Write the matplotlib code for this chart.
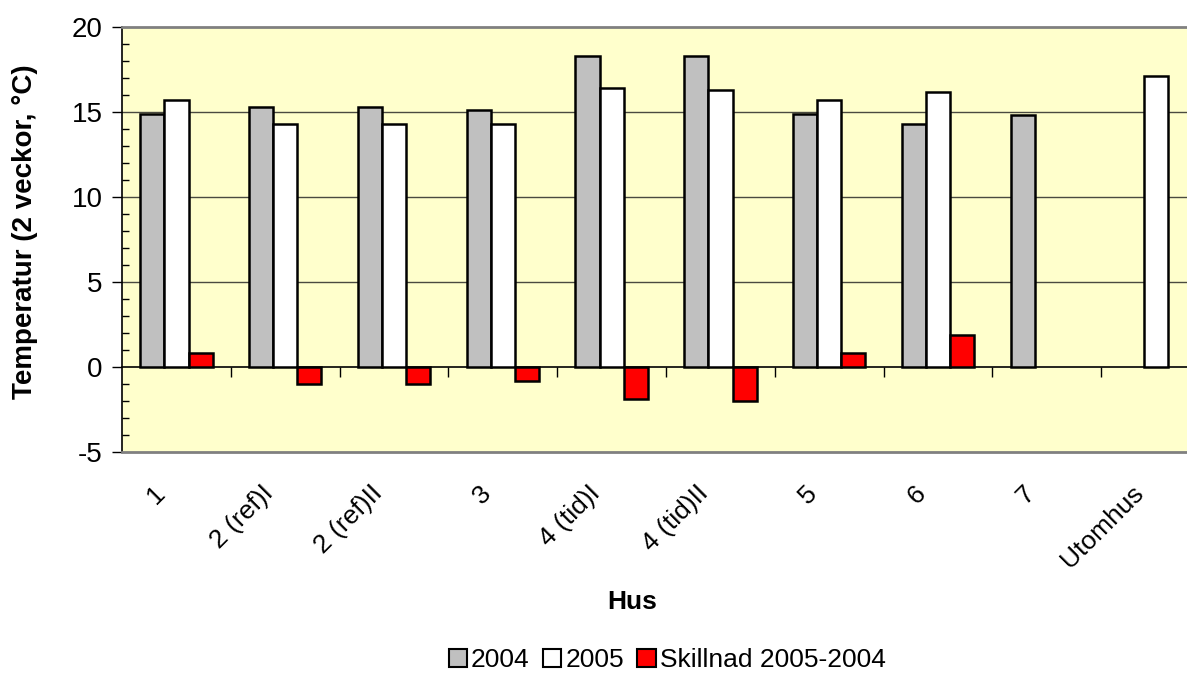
import numpy as np
import matplotlib
matplotlib.use("Agg")
import matplotlib.pyplot as plt
import matplotlib.transforms as mtransforms
from matplotlib.patches import Patch
from matplotlib.ticker import MultipleLocator

plt.rcParams['font.family'] = ['Liberation Sans', 'DejaVu Sans']
plt.rcParams['axes.unicode_minus'] = False

# Data
hus = ['1', '2 (ref)I', '2 (ref)II', '3', '4 (tid)I', '4 (tid)II', '5', '6', '7', 'Utomhus']
t2004 = [14.9, 15.3, 15.3, 15.1, 18.3, 18.3, 14.9, 14.3, 14.8, np.nan]
t2005 = [15.7, 14.3, 14.3, 14.3, 16.4, 16.3, 15.7, 16.2, np.nan, 17.1]
skillnad = [0.8, -1.0, -1.0, -0.8, -1.9, -2.0, 0.8, 1.9, np.nan, np.nan]

fig = plt.figure(figsize=(11.87, 6.78), dpi=100)
ax = fig.add_axes([0.1028, 0.3333, 0.9166, 0.6268])
ax.set_facecolor('#FFFFCC')

x = np.arange(len(hus))
w = 0.222
ax.bar(x - w, t2004, w, color='#C0C0C0', edgecolor='black', linewidth=1.8, zorder=3)
ax.bar(x, t2005, w, color='white', edgecolor='black', linewidth=1.8, zorder=3)
ax.bar(x + w, skillnad, w, color='#FF0000', edgecolor='black', linewidth=1.8, zorder=3)

ax.set_xlim(-0.5, len(hus) - 0.5)
ax.set_ylim(-5, 20)

# y axis
ax.yaxis.set_major_locator(MultipleLocator(5))
ax.yaxis.set_minor_locator(MultipleLocator(1))
ax.tick_params(axis='y', which='major', direction='out', length=7, width=1,
               labelsize=20, pad=7)
ax.tick_params(axis='y', which='minor', direction='in', length=5, width=1)
for yv in [5, 10, 15]:
    ax.axhline(yv, color='#4a4a40', linewidth=1, zorder=1)

# category labels at the bottom of the plot area
ax.set_xticks(x)
ax.set_xticklabels(hus, rotation=45, ha='right', va='top', rotation_mode='anchor')
ax.tick_params(axis='x', length=0, labelsize=19, pad=21)
off = mtransforms.ScaledTranslation(-24 / 100, 0, fig.dpi_scale_trans)
for lbl in ax.get_xticklabels():
    lbl.set_transform(lbl.get_transform() + off)

# category axis at y = 0
sec = ax.secondary_xaxis(5 / 25)
sec.set_xticks(x[:-1] + 0.5)
sec.set_xticklabels([])
sec.tick_params(direction='out', length=7, width=1)
sec.spines['bottom'].set_linewidth(1.2)
sec.spines['bottom'].set_zorder(4)

for s in ['top', 'bottom']:
    ax.spines[s].set_color('#808080')
    ax.spines[s].set_linewidth(2)
ax.spines['right'].set_visible(False)
ax.spines['left'].set_color('black')
ax.spines['left'].set_linewidth(1.2)

ax.set_ylabel('Temperatur (2 veckor, °C)', fontsize=20, fontweight='bold', va='center')
ax.yaxis.set_label_coords(-0.089, 0.518)
ax.set_xlabel('Hus', fontsize=19, fontweight='bold', va='center')
ax.xaxis.set_label_coords(0.469, -0.353)

handles = [Patch(facecolor='#C0C0C0', edgecolor='black', linewidth=1.5),
           Patch(facecolor='white', edgecolor='black', linewidth=1.5),
           Patch(facecolor='#FF0000', edgecolor='black', linewidth=1.5)]
fig.legend(handles, ['2004', '2005', 'Skillnad 2005-2004'], loc='center',
           bbox_to_anchor=(667 / 1187, 18 / 678), ncol=3, frameon=False,
           fontsize=19, handlelength=0.7, handleheight=0.7, handletextpad=0.15,
           columnspacing=0.5)

fig.savefig('out.png', dpi=100)
